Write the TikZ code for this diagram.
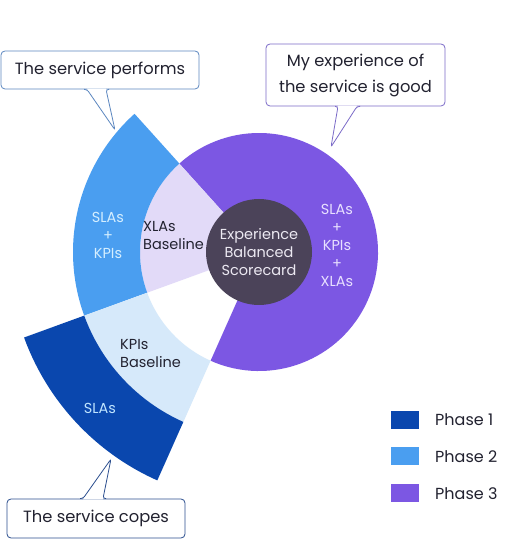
\documentclass[tikz,border=0pt]{standalone}
\usepackage{fontspec}
\setmainfont{Poppins}
\usetikzlibrary{calc}
\definecolor{pone}{HTML}{0A47AE}
\definecolor{ptwo}{HTML}{4A9EF0}
\definecolor{pthree}{HTML}{7C57E3}
\definecolor{lav}{HTML}{E2DAF8}
\definecolor{pale}{HTML}{D6E9FA}
\definecolor{core}{HTML}{4B4359}
\definecolor{txtdark}{HTML}{222230}
\definecolor{bone}{HTML}{5C87C0}
\definecolor{btwo}{HTML}{7B6BC8}
\definecolor{bthree}{HTML}{2C4F8F}
\definecolor{ltwo}{HTML}{D4EEFF}
\definecolor{lone}{HTML}{BFE4FF}
\definecolor{lthree}{HTML}{E8E0FF}
\definecolor{lcore}{HTML}{ECE9F2}
\newcommand\ringsector[5]{\fill[#1] ($(c)+(#2:#4)$) arc[start angle=#2,end angle=#3,radius=#4] -- ($(c)+(#3:#5)$) arc[start angle=#3,end angle=#2,radius=#5] -- cycle;}
\begin{document}
\begin{tikzpicture}[x=1pt,y=1pt,
  callout/.style={draw, rounded corners=4pt, fill=white, line width=0.8pt, inner sep=0pt, font=\fontsize{16.3}{26}\selectfont, align=center, text=txtdark},
  pointer/.style={line width=0.8pt, rounded corners=2.5pt},
  lbl/.style={font=\fontsize{14.5}{18}\selectfont, align=center, inner sep=0pt},
  legsq/.style={minimum width=28pt, minimum height=18pt, inner sep=0pt},
  legtxt/.style={font=\fontsize{16}{18}\selectfont, text=txtdark, anchor=west, inner sep=0pt}]
\useasboundingbox (0,0) rectangle (511,539);
\fill[white] (0,0) rectangle (511,539);
\coordinate (c) at (259,287);
% phase 3
\fill[pthree] (c) -- ($(c)+(-114:119)$) arc[start angle=-114,end angle=132,radius=119] -- cycle;
\fill[lav] (c) -- ($(c)+(132:119)$) arc[start angle=132,end angle=200,radius=119] -- cycle;
% phase 2 and 1
\ringsector{ptwo}{132}{200}{119}{186}
\ringsector{pale}{200}{246}{119}{186}
\ringsector{pone}{200}{246}{186}{250}
% core
\node[circle, fill=core, minimum size=106pt, inner sep=0pt, lbl, text=lcore] (corec) at (c) {Experience\\Balanced\\Scorecard};
% labels
\node[lbl, text=ltwo] (l2) at (108,304) {SLAs\\+\\KPIs};
\node[lbl, text=txtdark, align=left, anchor=west] (lx) at (143,303) {XLAs\\Baseline};
\node[lbl, text=lthree] (l3) at (337,294) {SLAs\\+\\KPIs\\+\\XLAs};
\node[lbl, text=txtdark, align=left, anchor=west] (lk) at (120,185) {KPIs\\Baseline};
\node[lbl, text=lone] (l1) at (100,131) {SLAs};
% callouts
\node[callout, draw=bone, minimum width=198pt, minimum height=38pt] (cb1) at (100,469) {The service performs};
\node[callout, draw=btwo, minimum width=179pt, minimum height=62pt] (cb2) at (355.5,464) {My experience of\\the service is good};
\node[callout, draw=bthree, minimum width=178pt, minimum height=39pt] (cb3) at (96,20.5) {The service copes};
\coordinate (t1) at (115,409);
\coordinate (t2) at (331,392);
\coordinate (t3) at (111,80);
\fill[white] ($(cb1.south)+(-13,0.8)$) -- (t1) -- ($(cb1.south)+(6,0.8)$) -- cycle;
\draw[bone, pointer] ($(cb1.south)+(-16,0)$) -- ($(cb1.south)+(-13,0)$) -- (t1) -- ($(cb1.south)+(6,0)$) -- ($(cb1.south)+(9,0)$);
\fill[white] ($(cb2.south)+(-17.5,0.8)$) -- (t2) -- ($(cb2.south)+(1.5,0.8)$) -- cycle;
\draw[btwo, pointer] ($(cb2.south)+(-20.5,0)$) -- ($(cb2.south)+(-17.5,0)$) -- (t2) -- ($(cb2.south)+(1.5,0)$) -- ($(cb2.south)+(4.5,0)$);
\fill[white] ($(cb3.north)+(-13,-0.8)$) -- (t3) -- ($(cb3.north)+(7,-0.8)$) -- cycle;
\draw[bthree, pointer] ($(cb3.north)+(-16,0)$) -- ($(cb3.north)+(-13,0)$) -- (t3) -- ($(cb3.north)+(7,0)$) -- ($(cb3.north)+(10,0)$);
% legend
\node[legsq, fill=pone] (s1) at (405,119) {};
\node[legsq, fill=ptwo] (s2) at (405,82.5) {};
\node[legsq, fill=pthree] (s3) at (405,45.5) {};
\node[legtxt] (g1) at (435,119) {Phase 1};
\node[legtxt] (g2) at (435,82.5) {Phase 2};
\node[legtxt] (g3) at (435,45.5) {Phase 3};
\end{tikzpicture}
\end{document}
